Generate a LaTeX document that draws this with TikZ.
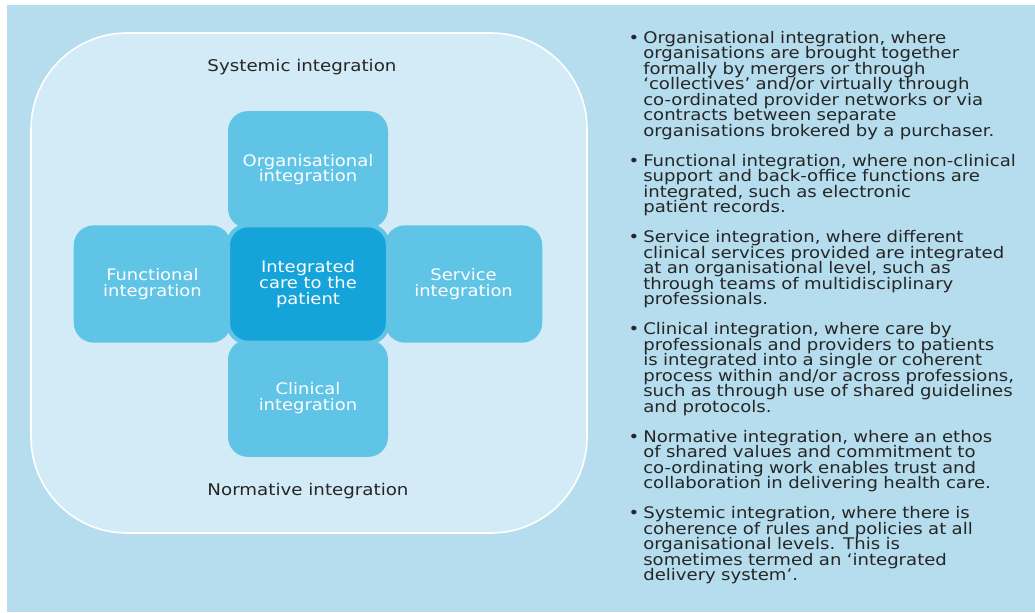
\documentclass[tikz,border=0pt]{standalone}
\usepackage{fontspec}
\setmainfont{DejaVu Sans}[FakeStretch=1.13]
\usetikzlibrary{positioning, backgrounds}
\definecolor{paneblue}{HTML}{B5DDEE}
\definecolor{zoneblue}{HTML}{D3EBF6}
\definecolor{facetblue}{HTML}{60C4E7}
\definecolor{coreblue}{HTML}{15A4DA}
\definecolor{inkgray}{HTML}{262626}
\newcommand{\tightlines}{\lineskiplimit=-20pt\relax\lineskip=0pt\relax}
\tikzset{
    zone/.style={
        draw=white,
        line width=1.2pt,
        fill=zoneblue,
        rounded corners=72pt
    },
    facet/.style={
        rectangle,
        rounded corners=15pt,
        fill=facetblue,
        minimum width=118pt,
        minimum height=88pt,
        text=white,
        align=center,
        font=\fontsize{11.9}{11.8}\selectfont\tightlines
    },
    core/.style={
        facet,
        minimum width=120pt,
        fill=coreblue,
        draw=facetblue,
        line width=3pt
    },
    heading/.style={
        text=inkgray,
        font=\fontsize{12.1}{12}\selectfont
    },
    item/.style={
        anchor=north west,
        inner sep=0pt,
        text width=300pt,
        align=left,
        text=inkgray,
        font=\fontsize{12}{11.6}\selectfont\tightlines
    }
}

\begin{document}
\begin{tikzpicture}[x=0.75pt, y=-0.75pt, node distance=10.6pt]

\useasboundingbox (0,0) rectangle (1035,612);

% Centre of the cross
\node[core] (care) at (308,284) {Integrated\\care to the\\patient};

\begin{scope}[on background layer]
\fill[paneblue] (7,5) rectangle (1035,612);
% Integration zone
\draw[zone] (31,33) rectangle (587,533);
% Cross of integration types
\node[facet, minimum width=120pt, above=-4pt of care] (org) {Organisational\\integration};
\node[facet, minimum width=120pt, below=-4pt of care] (cli) {Clinical\\integration};
\node[facet, left=-4pt of care] (fun) {Functional\\integration};
\node[facet, right=-4pt of care] (ser) {Service\\integration};
\end{scope}

\node[heading] (sys) at (302,67) {Systemic integration};
\node[heading] (norm) at (308,491) {Normative integration};

% Descriptions
\node[item] (orgtxt) at (643,31) {\llap{•\hspace{3pt}}Organisational integration, where\\
organisations are brought together\\
formally by mergers or through\\
‘collectives’ and/or virtually through\\
co-ordinated provider networks or via\\
contracts between separate\\
organisations brokered by a purchaser.};
\node[item, below=of orgtxt] (funtxt) {\llap{•\hspace{3pt}}Functional integration, where non-clinical\\
support and back-office functions are\\
integrated, such as electronic\\
patient records.};
\node[item, below=of funtxt] (sertxt) {\llap{•\hspace{3pt}}Service integration, where different\\
clinical services provided are integrated\\
at an organisational level, such as\\
through teams of multidisciplinary\\
professionals.};
\node[item, below=of sertxt] (clitxt) {\llap{•\hspace{3pt}}Clinical integration, where care by\\
professionals and providers to patients\\
is integrated into a single or coherent\\
process within and/or across professions,\\
such as through use of shared guidelines\\
and protocols.};
\node[item, below=of clitxt] (normtxt) {\llap{•\hspace{3pt}}Normative integration, where an ethos\\
of shared values and commitment to\\
co-ordinating work enables trust and\\
collaboration in delivering health care.};
\node[item, below=of normtxt] (systxt) {\llap{•\hspace{3pt}}Systemic integration, where there is\\
coherence of rules and policies at all\\
organisational levels. This is\\
sometimes termed an ‘integrated\\
delivery system’.};

\end{tikzpicture}
\end{document}
